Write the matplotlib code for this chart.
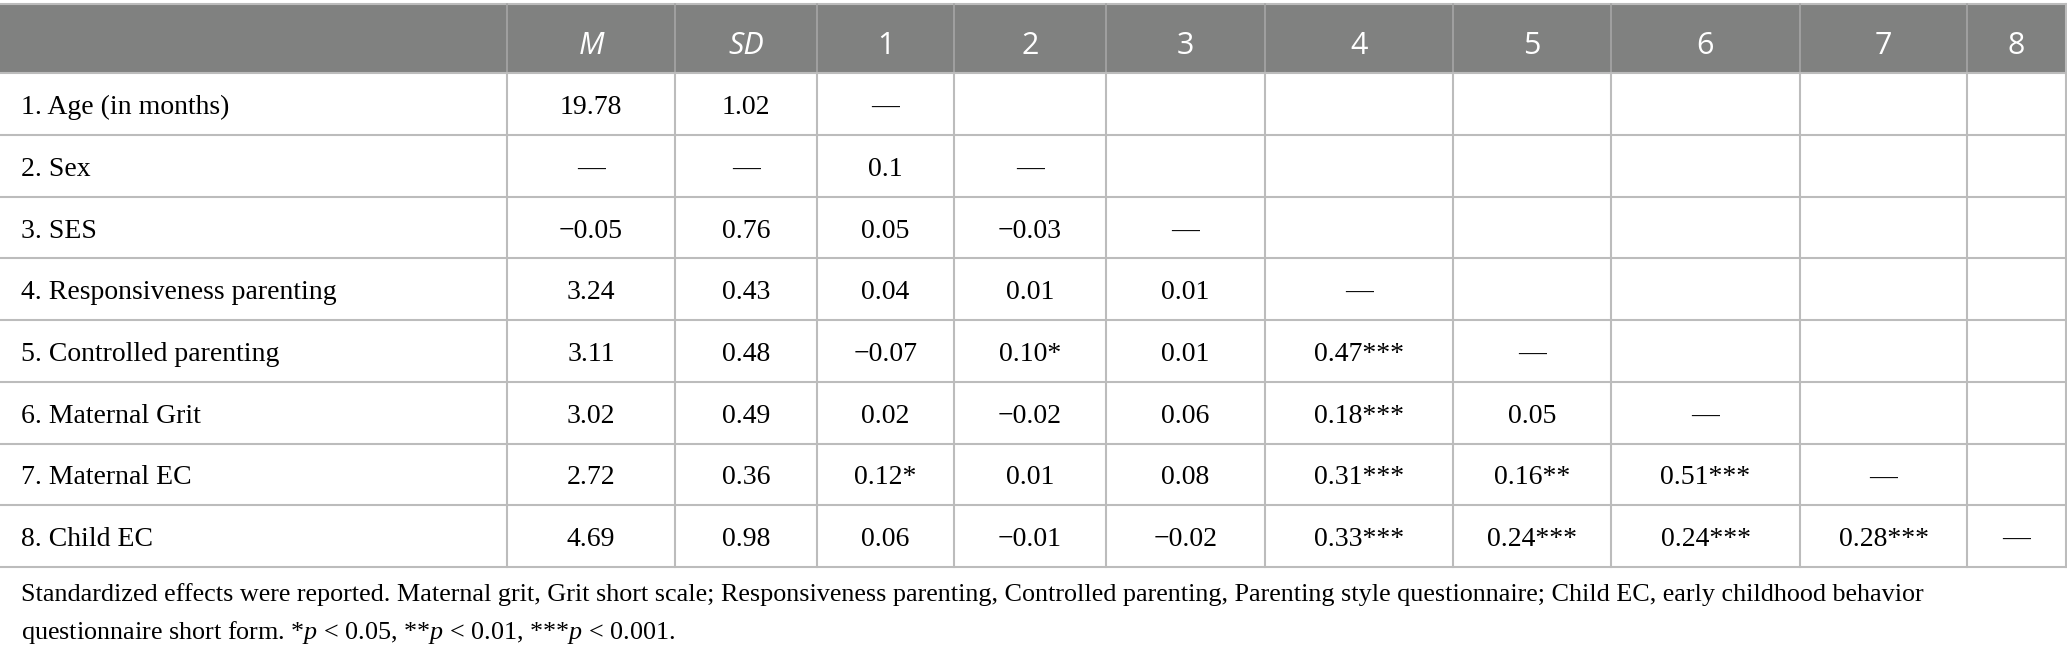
"""
Descriptive statistics and correlations table, drawn with matplotlib.
Run:  python plot.py  -> out.png
"""

import matplotlib
matplotlib.use("Agg")
import matplotlib.pyplot as plt
from matplotlib.patches import Rectangle

plt.rcParams["mathtext.fontset"] = "custom"
plt.rcParams["mathtext.rm"] = "Liberation Serif"
plt.rcParams["mathtext.it"] = "Liberation Serif:italic"

# --- data -----------------------------------------------------------------
headers = ["M", "SD", "1", "2", "3", "4", "5", "6", "7", "8"]
italic_headers = {"M", "SD"}

variables = [
    "1. Age (in months)",
    "2. Sex",
    "3. SES",
    "4. Responsiveness parenting",
    "5. Controlled parenting",
    "6. Maternal Grit",
    "7. Maternal EC",
    "8. Child EC",
]
means = ["19.78", "—", "−0.05", "3.24", "3.11", "3.02", "2.72", "4.69"]
sds = ["1.02", "—", "0.76", "0.43", "0.48", "0.49", "0.36", "0.98"]

# lower triangle of the correlation matrix, one list per row
corr_rows = [
    ["—"],
    ["0.1", "—"],
    ["0.05", "−0.03", "—"],
    ["0.04", "0.01", "0.01", "—"],
    ["−0.07", "0.10*", "0.01", "0.47***", "—"],
    ["0.02", "−0.02", "0.06", "0.18***", "0.05", "—"],
    ["0.12*", "0.01", "0.08", "0.31***", "0.16**", "0.51***", "—"],
    ["0.06", "−0.01", "−0.02", "0.33***", "0.24***", "0.24***", "0.28***", "—"],
]

note_lines = [
    "Standardized effects were reported. Maternal grit, Grit short scale; Responsiveness parenting, "
    "Controlled parenting, Parenting style questionnaire; Child EC, early childhood behavior",
    "questionnaire short form. *$p$ < 0.05, **$p$ < 0.01, ***$p$ < 0.001.",
]

# --- layout (pixels) ------------------------------------------------------
W, H = 2067, 659
col_edges = [0, 507, 675, 817, 954, 1106, 1265, 1453, 1611, 1800, 1967, 2066]
top, head_bottom, row_h = 4, 73, 61.75

HEAD_BG = "#808180"
GRID = "#bcbcbc"
HEAD_SEP = "#a6a6a6"
SERIF = "Liberation Serif"
SANS = "Open Sans"
BODY_FS = 20
HEAD_FS = 22
NOTE_FS = 18.8


def main():
    fig = plt.figure(figsize=(W / 100, H / 100), dpi=100)
    ax = fig.add_axes([0, 0, 1, 1])
    ax.set_xlim(0, W)
    ax.set_ylim(H, 0)
    ax.axis("off")

    # header band
    ax.add_patch(Rectangle((0, top), col_edges[-1], head_bottom - top,
                           facecolor=HEAD_BG, edgecolor="none"))
    ax.plot([0, col_edges[-1]], [top, top], color=GRID, lw=1.5)
    for x in col_edges[1:-1]:
        ax.plot([x, x], [top, head_bottom], color=HEAD_SEP, lw=1.2)
    ax.plot([col_edges[-1]] * 2, [top, head_bottom], color=GRID, lw=1.5)

    for i, h in enumerate(headers):
        xc = (col_edges[i + 1] + col_edges[i + 2]) / 2
        ax.text(xc, 54, h, color="white", fontsize=HEAD_FS, family=SANS,
                style="italic" if h in italic_headers else "normal",
                ha="center", va="baseline")

    # body rows
    n = len(variables)
    bottom = head_bottom + n * row_h
    for r in range(n + 1):
        y = head_bottom + r * row_h
        ax.plot([0, col_edges[-1]], [y, y], color=GRID, lw=1.5)
    for x in col_edges[1:]:
        ax.plot([x, x], [head_bottom, bottom], color=GRID, lw=1.5)

    for r, name in enumerate(variables):
        yb = head_bottom + r * row_h + 41
        ax.text(21, yb, name, fontsize=BODY_FS, family=SERIF, ha="left", va="baseline")
        cells = [means[r], sds[r]] + corr_rows[r]
        for c, val in enumerate(cells):
            xc = (col_edges[c + 1] + col_edges[c + 2]) / 2
            ax.text(xc, yb, val, fontsize=BODY_FS, family=SERIF, ha="center", va="baseline")

    # footnote
    for k, line in enumerate(note_lines):
        ax.text(21, bottom + 34 + k * 38, line, fontsize=NOTE_FS, family=SERIF,
                ha="left", va="baseline")

    fig.savefig("out.png", dpi=100)
    plt.close(fig)


if __name__ == "__main__":
    main()
